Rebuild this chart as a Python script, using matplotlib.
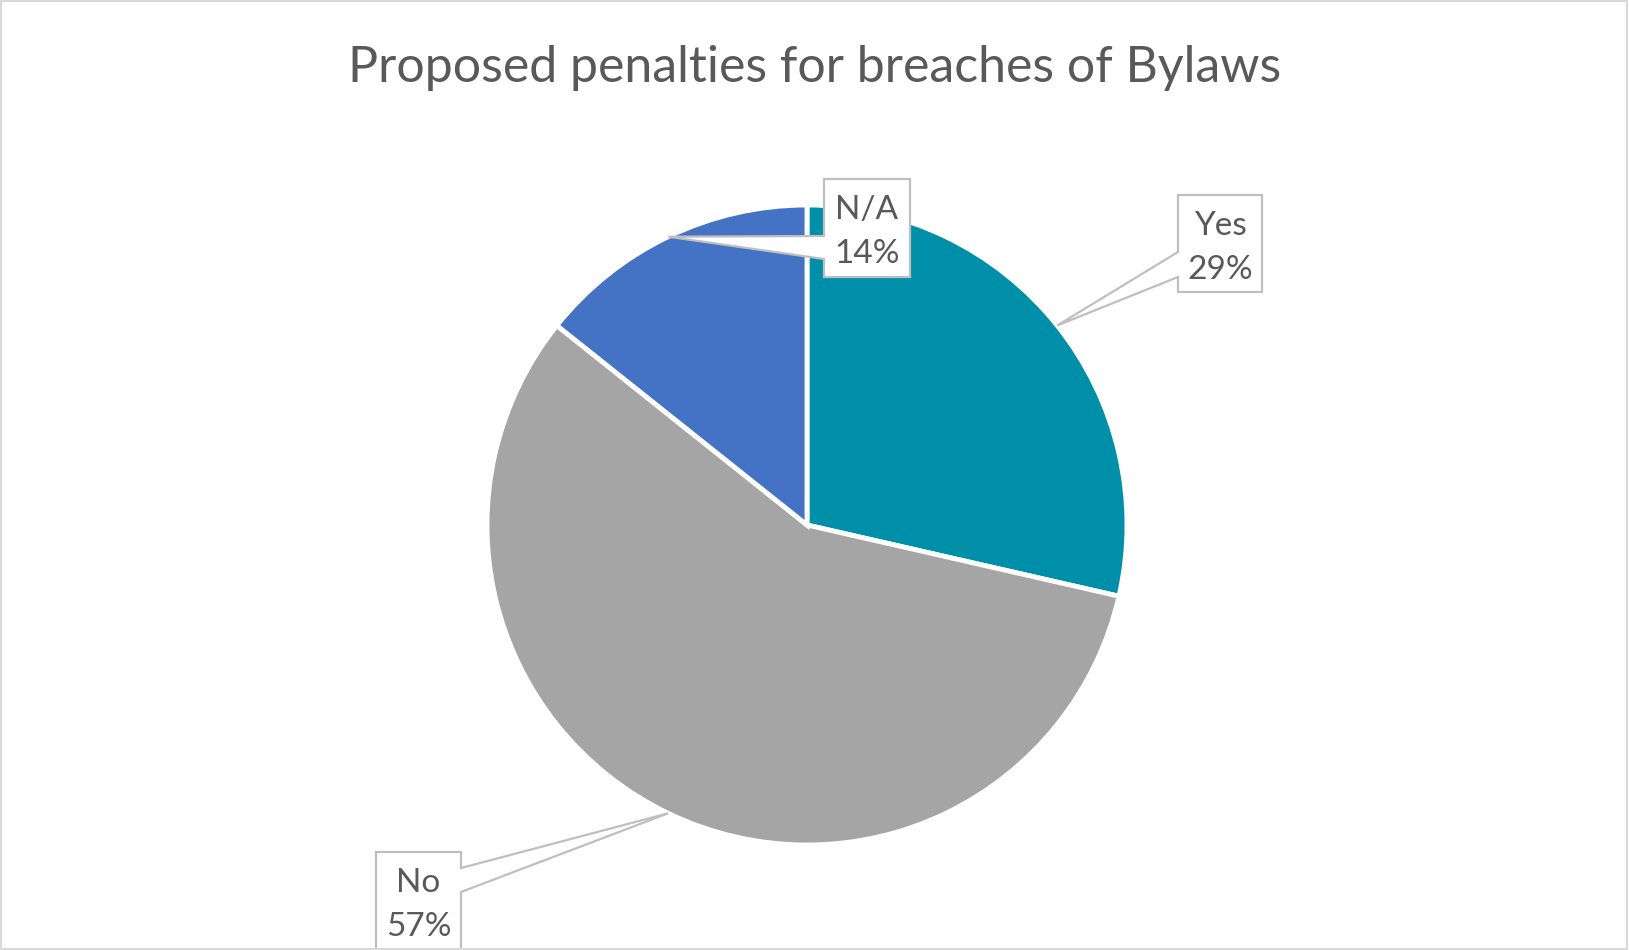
import matplotlib.pyplot as plt
import numpy as np
from matplotlib.patches import Polygon, Rectangle

# data
categories = ["Yes", "No", "N/A"]
counts = [2, 4, 1]
percent_labels = ["29%", "57%", "14%"]
colors = ["#008FA8", "#A5A5A5", "#4472C4"]
title = "Proposed penalties for breaches of Bylaws"

W, H = 1629, 950
CX, CY, R = 807, 525, 320  # pie centre / radius in pixels (from top-left)


def px(x, y):
    # pixel (from top-left) -> data units where pie radius == 1
    return (x - CX) / R, (CY - y) / R


plt.rcParams['font.family'] = ['Lato', 'DejaVu Sans']
text_col = "#595959"
box_col = "#BFBFBF"

fig = plt.figure(figsize=(W / 100, H / 100), dpi=100)
ax = fig.add_axes([0, 0, 1, 1])

wedges, _ = ax.pie(counts, colors=colors, startangle=90, counterclock=False,
                   radius=1.0, wedgeprops=dict(edgecolor="white", linewidth=3.5))

ax.set_xlim(-CX / R, (W - CX) / R)
ax.set_ylim(-(H - CY) / R, CY / R)
ax.set_aspect("equal")
ax.axis("off")

# callout boxes: (left, top, right, bottom) px, side of notch, notch y's px
boxes = {
    "Yes": ((1178, 195, 1262, 292), "left", (252, 277)),
    "N/A": ((824, 179, 910, 277), "left", (236, 259)),
    "No": ((376, 852, 461, 952), "right", (868, 892)),
}

for w, cat, pct in zip(wedges, categories, percent_labels):
    mid = np.deg2rad((w.theta1 + w.theta2) / 2)
    anchor = (np.cos(mid), np.sin(mid))
    (l, t, r, b), side, (n1, n2) = boxes[cat]
    if side == "left":
        verts = [px(l, t), px(l, n1), anchor, px(l, n2), px(l, b), px(r, b), px(r, t)]
    else:
        verts = [px(l, t), px(r, t), px(r, n1), anchor, px(r, n2), px(r, b), px(l, b)]
    ax.add_patch(Polygon(verts, closed=True, facecolor="white", edgecolor=box_col,
                         linewidth=1.6, joinstyle="miter", zorder=5))
    cx_, cy_ = px((l + r) / 2, (t + b) / 2 + 3)
    if cat == "No":
        cx_, cy_ = px((l + r) / 2, (t + 950) / 2 + 3)
    ax.text(cx_, cy_ - 0.004, f"{cat}\n{pct}", ha="center", va="center", fontsize=24,
            color=text_col, linespacing=1.6, zorder=6)

fig.text(0.5, 1 - 68 / H, title, ha="center", va="center", fontsize=36, color=text_col)

# chart area border
fig.add_artist(Rectangle((0.0006, 0.001), 0.9982, 0.998, transform=fig.transFigure,
                         fill=False, edgecolor="#D9D9D9", linewidth=1.5))

fig.savefig("out.png", dpi=100)
